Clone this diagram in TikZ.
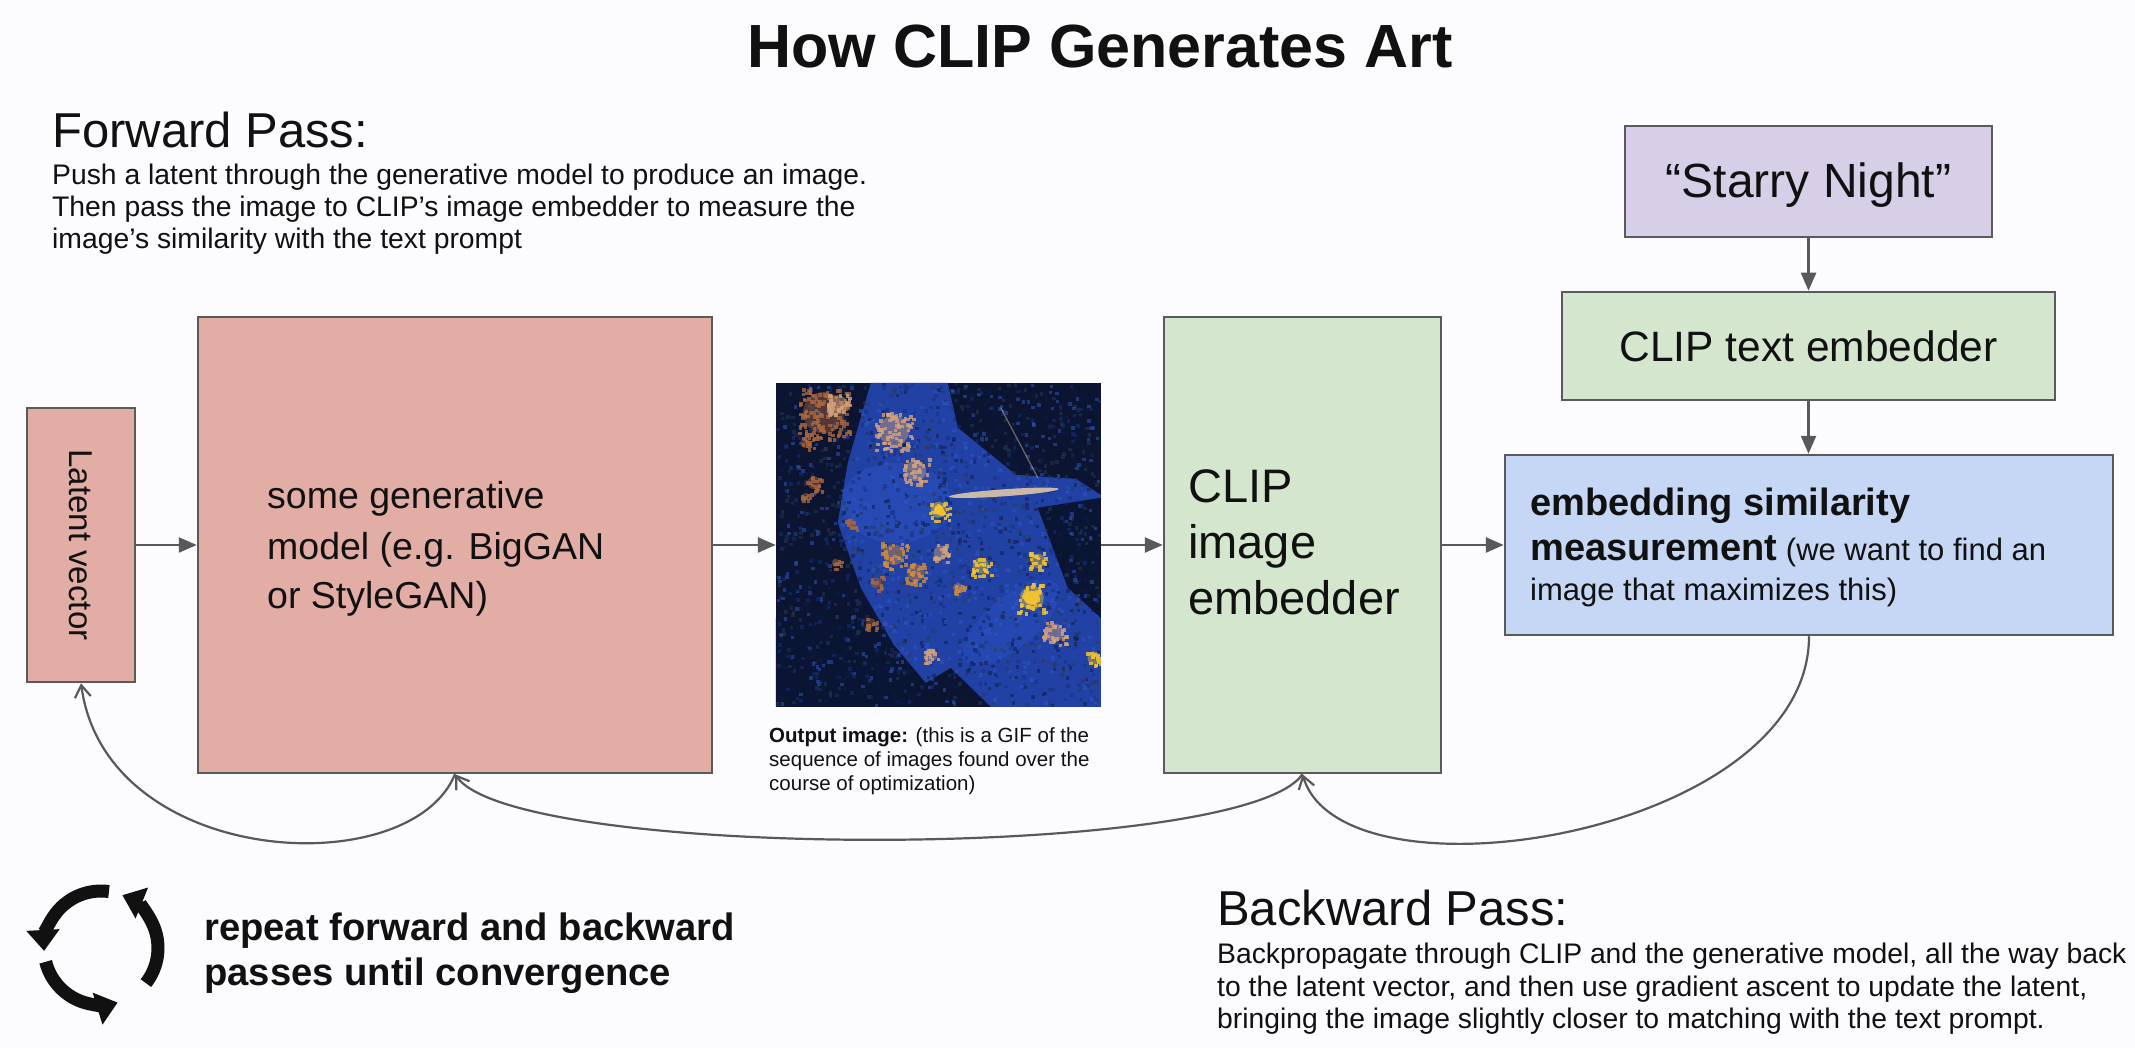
\documentclass[tikz,border=0pt]{standalone}
\usepackage{fontspec}
\setmainfont{Liberation Sans}
\usetikzlibrary{arrows.meta}

% font size helper: size and baseline skip, both in pt
\newcommand\fsz[2]{\fontsize{#1}{#2}\selectfont}

\definecolor{bgpaper}{HTML}{FCFBFD}
\definecolor{salmon}{HTML}{E2ADA4}
\definecolor{mint}{HTML}{D4E6CD}
\definecolor{lavender}{HTML}{D7CFE7}
\definecolor{skyblue}{HTML}{C5D7F4}
\definecolor{edgegray}{HTML}{5A5A5A}
\definecolor{arrowgray}{HTML}{595959}
\definecolor{inkblack}{HTML}{111111}
% colours of the generated picture
\definecolor{artdark}{HTML}{0B1430}
\definecolor{artblue}{HTML}{2141A5}
\definecolor{artdeep}{HTML}{0A1433}
\definecolor{artmid}{HTML}{2B50C2}
\definecolor{artrust}{HTML}{A8663F}
\definecolor{artpeach}{HTML}{D4A27A}
\definecolor{artcream}{HTML}{E8CFA8}
\definecolor{artgold}{HTML}{EEC230}
\definecolor{artorange}{HTML}{CF8C3E}
\definecolor{noiseA}{HTML}{17307E}
\definecolor{noiseB}{HTML}{0E1C45}
\definecolor{noiseC}{HTML}{3058C8}
\definecolor{noiseD}{HTML}{2A3A50}

\begin{document}
\begin{tikzpicture}[x=1pt,y=-1pt,
  blk/.style={draw=edgegray, line width=2.5pt, inner sep=0pt},
  lbl/.style={anchor=base west, inner sep=0pt, text=inkblack},
  fwd/.style={draw=arrowgray, line width=2.5pt, -{Triangle[length=18pt,width=15pt]}},
  bwd/.style={draw=arrowgray, line width=2.2pt, -{Straight Barb[length=12pt,width=16pt]}},
  cyc/.style={draw=inkblack, line width=13pt, -{Triangle[length=21pt,width=32pt]}},
  px0/.style={fill=noiseA, opacity=.5},
  px1/.style={fill=noiseB, opacity=.5},
  px2/.style={fill=noiseC, opacity=.5},
  px3/.style={fill=noiseD, opacity=.5},
  wr/.style={fill=artrust, opacity=.8},
  wp/.style={fill=artpeach, opacity=.8},
  wo/.style={fill=artorange, opacity=.8},
  wg/.style={fill=artgold, opacity=.85},
]
\useasboundingbox (0,0) rectangle (2135,1048);
\fill[bgpaper] (0,0) rectangle (2135,1048);

% ---------- title and forward-pass notes ----------
\node[lbl, anchor=base, font=\fsz{61}{70}\bfseries] (title) at (1100,68) {How CLIP Generates Art};

\node[lbl, font=\fsz{49}{56}] (fwdhead) at (52,148) {Forward Pass:};
\node[lbl, font=\fsz{28.3}{32}] (fwd1) at (52,185) {Push a latent through the generative model to produce an image.};
\node[lbl, font=\fsz{28.3}{32}] (fwd2) at (52,217) {Then pass the image to CLIP’s image embedder to measure the};
\node[lbl, font=\fsz{28.3}{32}] (fwd3) at (52,249) {image’s similarity with the text prompt};

% ---------- boxes ----------
\node[blk, fill=salmon, minimum width=108pt, minimum height=274pt] (latent) at (81,545) {};
\node[blk, fill=salmon, minimum width=514pt, minimum height=456pt] (gen) at (455,545) {};
\node[fill=artdark, inner sep=0pt, minimum width=325pt, minimum height=324pt] (img) at (938.5,545) {};
\node[blk, fill=mint, minimum width=277pt, minimum height=456pt] (clipimg) at (1302.5,545) {};
\node[blk, fill=skyblue, minimum width=608pt, minimum height=180pt] (sim) at (1809,545) {};
\node[blk, fill=lavender, minimum width=367pt, minimum height=111pt] (starry) at (1808.5,181.5) {};
\node[blk, fill=mint, minimum width=493pt, minimum height=108pt] (textemb) at (1808.5,346) {};

% box labels
\node[inner sep=0pt, rotate=-90, font=\fsz{33}{38}, text=inkblack] (latenttxt) at (latent) {Latent vector};

\node[lbl, font=\fsz{37.5}{50}] (gen1) at (267,508) {some generative};
\node[lbl, font=\fsz{37.5}{50}] (gen2) at (267,559) {model (e.g. BigGAN};
\node[lbl, font=\fsz{37.5}{50}] (gen3) at (267,608) {or StyleGAN)};

\node[lbl, font=\fsz{47}{56}] (clip1) at (1188,502) {CLIP};
\node[lbl, font=\fsz{47}{56}] (clip2) at (1188,558) {image};
\node[lbl, font=\fsz{47}{56}] (clip3) at (1188,614) {embedder};

\node[lbl, anchor=base, font=\fsz{48}{56}] (starrytxt) at (1808.5,198) {“Starry Night”};
\node[lbl, anchor=base, font=\fsz{42.5}{50}] (textembtxt) at (1808.5,361) {CLIP text embedder};

\node[lbl, font=\fsz{38}{46}\bfseries] (sim1) at (1530,515) {embedding similarity};
\node[lbl, font=\fsz{31}{38}] (sim2) at (1530,560) {\fsz{38}{46}\bfseries measurement\fsz{31}{38}\mdseries{} (we want to find an};
\node[lbl, font=\fsz{31}{38}] (sim3) at (1530,600) {image that maximizes this)};

% caption under the picture
\node[lbl, font=\fsz{20.5}{24}] (cap1) at (769,742) {\textbf{Output image:} (this is a GIF of the};
\node[lbl, font=\fsz{20.5}{24}] (cap2) at (769,766) {sequence of images found over the};
\node[lbl, font=\fsz{20.5}{24}] (cap3) at (769,790) {course of optimization)};

% ---------- the generated picture ----------
\begin{scope}[shift={(img.north west)}]
  \clip (0,0) rectangle (325,324);
  \fill[artdark] (0,0) rectangle (325,324);
  \fill[artblue] (95,0) -- (172,0) -- (182,45) -- (240,92) -- (300,96) -- (325,112)
     -- (325,324) -- (215,324) -- (175,285) -- (150,300) -- (118,262) -- (85,205)
     -- (62,140) -- (72,80) -- cycle;
  \fill[artdeep] (262,125) -- (325,115) -- (325,235) -- (292,205) -- cycle;
  \fill[artdeep] (0,235) -- (90,240) -- (135,285) -- (150,324) -- (0,324) -- cycle;
  \fill[artmid, opacity=.55] (120,120) ellipse (55 and 40);
  \fill[artmid, opacity=.45, rotate around={40:(235,240)}] (235,240) ellipse (60 and 25);
  % fine speckle texture
  \pgfmathsetseed{11}
  \foreach \k in {1,...,1700}{
    \pgfmathsetmacro{\qx}{rnd*322}
    \pgfmathsetmacro{\qy}{rnd*321}
    \pgfmathtruncatemacro{\qc}{3.999*rnd}
    \fill[px\qc] (\qx,\qy) rectangle ++(3.5,3.5);
  }
  % warm highlights: soft core plus pixel cluster
  \foreach \cx/\cy/\rr/\ws in {48/30/26/wr, 62/22/12/wp, 118/48/19/wp, 140/88/13/wp,
      163/127/10/wg, 38/100/8/wr, 30/114/5/wr, 118/172/13/wo, 140/190/11/wo,
      165/170/9/wp, 100/200/7/wr, 182/205/6/wo, 205/183/10/wg, 262/178/9/wg,
      256/215/15/wg, 278/250/12/wp, 318/275/8/wg, 155/272/8/wp, 75/140/6/wr,
      30/60/7/wr, 95/240/6/wr, 60/180/5/wr}{
    \fill[\ws, opacity=.45] (\cx,\cy) ellipse ({0.8*\rr} and {0.8*\rr});
    \pgfmathtruncatemacro{\nn}{4+\rr*\rr/5}
    \foreach \j in {1,...,\nn}{
      \pgfmathsetmacro{\dx}{(rnd-0.5)*2*\rr}
      \pgfmathsetmacro{\dy}{(rnd-0.5)*2*\rr}
      \fill[\ws] ({\cx+\dx},{\cy+\dy}) rectangle ++(3.5,3.5);
    }
  }
  \fill[artgold] (163,127) circle (5);
  \fill[artgold] (256,215) ellipse (8 and 7);
  \fill[artcream, opacity=.85, rotate around={4:(228,110)}] (228,110) ellipse (55 and 3.5);
  \draw[artcream, opacity=.45, line width=1.2pt] (225,25) -- (262,95);
\end{scope}

% ---------- forward connectors ----------
\draw[fwd] (latent.east) -- (gen.west);
\draw[fwd] (gen.east) -- (img.west);
\draw[fwd] (img.east) -- (clipimg.west);
\draw[fwd] (clipimg.east) -- (sim.west);
\draw[fwd] (starry.south) -- (textemb.north);
\draw[fwd] (textemb.south) -- (textemb.south |- sim.north);

% ---------- backward connectors ----------
\draw[bwd] (sim.south) .. controls +(0,200) and +(40,135) .. (clipimg.south);
\draw[bwd] (clipimg.south) .. controls +(-60,87) and +(60,87) .. (gen.south);
\draw[bwd] (gen.south) .. controls +(-45,110) and +(25,185) .. (latent.south);

% ---------- repeat icon and notes ----------
\begin{scope}[shift={(101,948)}, yscale=-1]
  \coordinate (cycc) at (0,0);
  \draw[cyc] (82:57) arc[start angle=82, end angle=183, radius=57];
  \draw[cyc] (194:57) arc[start angle=194, end angle=287, radius=57];
  \draw[cyc] (-38:57) arc[start angle=-38, end angle=68, radius=57];
\end{scope}

\node[lbl, font=\fsz{38.2}{45}\bfseries] (rep1) at (204,940) {repeat forward and backward};
\node[lbl, font=\fsz{38.2}{45}\bfseries] (rep2) at (204,985) {passes until convergence};

\node[lbl, font=\fsz{49}{56}] (bwdhead) at (1217,925) {Backward Pass:};
\node[lbl, font=\fsz{28.3}{32}] (bwd1) at (1217,963) {Backpropagate through CLIP and the generative model, all the way back};
\node[lbl, font=\fsz{28.3}{32}] (bwd2) at (1217,996) {to the latent vector, and then use gradient ascent to update the latent,};
\node[lbl, font=\fsz{28.3}{32}] (bwd3) at (1217,1028) {bringing the image slightly closer to matching with the text prompt.};
\end{tikzpicture}
\end{document}
